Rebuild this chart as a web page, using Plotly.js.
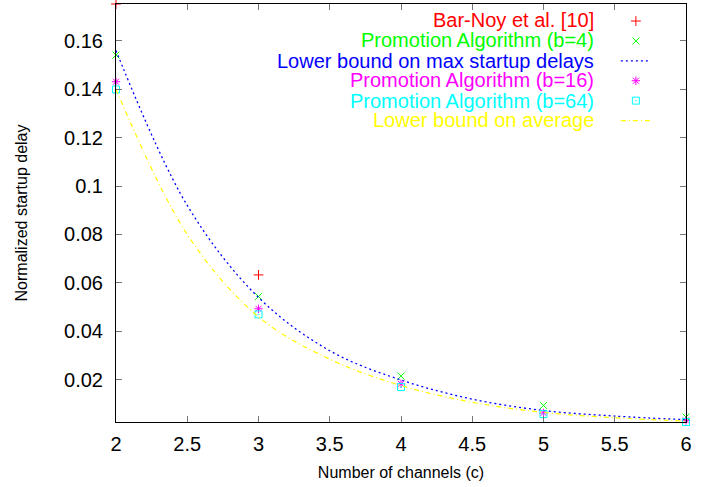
<!DOCTYPE html>
<html>
<head>
<meta charset="utf-8">
<script src="https://cdn.plot.ly/plotly-3.0.1.min.js"></script>
<style>html,body{margin:0;padding:0;background:#fff;}#chart{width:719px;height:487px;}</style>
</head>
<body>
<div id="chart"></div>
<script>
// Data
const channels = [2, 3, 4, 5, 6];
const barNoyX = [2, 3];
const barNoy = [0.1752, 0.0633];
const promoB4 = [0.1541, 0.0544, 0.0215, 0.0094, 0.0046];
const promoB16 = [0.1431, 0.0493, 0.0183, 0.0063, 0.0032];
const promoB64 = [0.1399, 0.0470, 0.0170, 0.0058, 0.00255];
const curveX = [2, 2.5, 3, 3.5, 4, 4.5, 5, 5.5, 6];
const lbMax = [0.1560, 0.0920, 0.0540, 0.0320, 0.0199, 0.0120, 0.0073, 0.0050, 0.0035];
const lbAvg = [0.1400, 0.0800, 0.0460, 0.0285, 0.0176, 0.0107, 0.0065, 0.0043, 0.0029];
const names = ["Bar-Noy et al. [10]", "Promotion Algorithm (b=4)", "Lower bound on max startup delays",
               "Promotion Algorithm (b=16)", "Promotion Algorithm (b=64)", "Lower bound on average"];
const colors = ["#ff0000", "#00ff00", "#0000ff", "#ff00ff", "#00ffff", "#ffff00"];
const xTicks = [2, 2.5, 3, 3.5, 4, 4.5, 5, 5.5, 6];
const xTickText = ["2", "2.5", "3", "3.5", "4", "4.5", "5", "5.5", "6"];
const yTicks = [0.02, 0.04, 0.06, 0.08, 0.1, 0.12, 0.14, 0.16];
const yTickText = ["0.02", "0.04", "0.06", "0.08", "0.1", "0.12", "0.14", "0.16"];

const FONT = "Liberation Sans, Arial, sans-serif";

function pts(x, y, i, symbol, size) {
  return {x: x, y: y, type: "scatter", mode: "markers", name: " ", cliponaxis: false,
    marker: {symbol: symbol, size: size, color: colors[i], line: {color: colors[i], width: 1}},
    showlegend: true};
}
function curve(x, y, i, dash, w) {
  return {x: x, y: y, type: "scatter", mode: "lines", name: " ",
    line: {color: colors[i], width: w, dash: dash, shape: "spline", smoothing: 1},
    showlegend: true};
}

const traces = [
  pts(barNoyX, barNoy, 0, "cross-thin-open", 7),
  pts(channels, promoB4, 1, "x-thin-open", 7),
  curve(curveX, lbMax, 2, "2px,3px", 1.3),
  pts(channels, promoB16, 3, "asterisk-open", 7),
  pts(channels, promoB64, 4, "square-open-dot", 7),
  curve(curveX, lbAvg, 5, "5px,3px,1px,3px", 1.2)
];

const rowsY = [0.9617, 0.9127, 0.8648, 0.817, 0.769, 0.7213];
const annotations = names.map((n, i) => ({
  xref: "paper", yref: "paper", x: 0.8404, y: rowsY[i], xanchor: "right", yanchor: "middle",
  text: n, showarrow: false, borderpad: 0, font: {family: FONT, size: 20, color: colors[i]}
}));

const axisCommon = {
  showline: true, linecolor: "#000", linewidth: 1, mirror: "allticks",
  ticks: "inside", ticklen: 6, tickwidth: 1, tickcolor: "#777",
  showgrid: false, zeroline: false,
  tickfont: {family: FONT, size: 20, color: "#000"}
};

const layout = {
  width: 719, height: 487,
  margin: {l: 116, r: 33, t: 4, b: 65},
  paper_bgcolor: "#fff", plot_bgcolor: "#fff",
  showlegend: true,
  legend: {x: 0.877, y: 0.995, xanchor: "left", yanchor: "top", bgcolor: "rgba(0,0,0,0)",
    font: {family: FONT, size: 13}, tracegroupgap: 0, itemwidth: 30},
  xaxis: Object.assign({}, axisCommon, {range: [2, 6], tickvals: xTicks, ticktext: xTickText,
    ticklabelstandoff: 4,
    title: {text: "Number of channels (c)", font: {family: FONT, size: 16, color: "#000"}, standoff: 12}}),
  yaxis: Object.assign({}, axisCommon, {range: [0.00255, 0.1752], tickvals: yTicks, ticktext: yTickText,
    ticklabelstandoff: 8,
    title: {text: "Normalized startup delay", font: {family: FONT, size: 16, color: "#000"}, standoff: 32}}),
  annotations: annotations
};

Plotly.newPlot("chart", traces, layout, {staticPlot: true, displayModeBar: false});
</script>
</body>
</html>
